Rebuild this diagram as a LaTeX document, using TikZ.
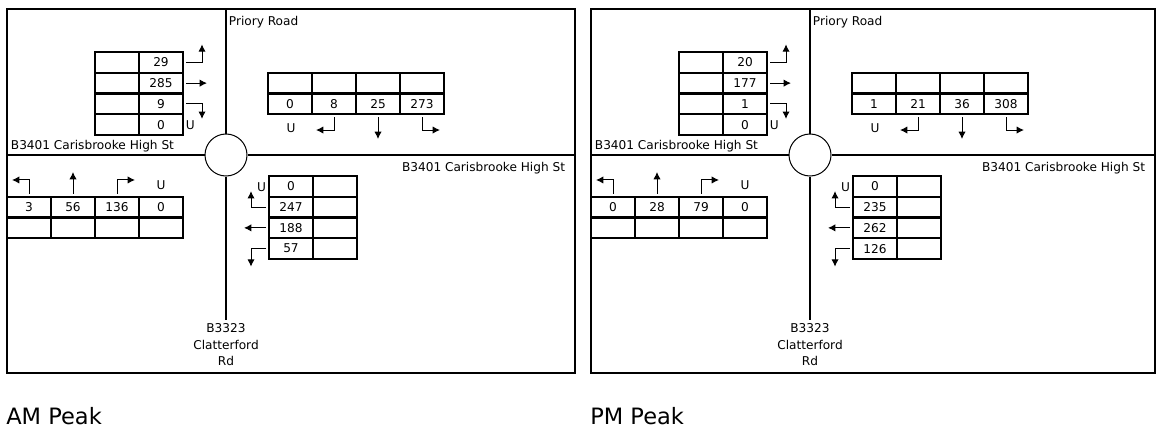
\documentclass[tikz,border=0pt]{standalone}
\usepackage{fontspec}
\setmainfont{DejaVu Sans}
\usetikzlibrary{arrows.meta,calc}
\newcommand\smallfnt{\fontsize{9.1pt}{12.4pt}\selectfont}
\newcommand\bigfnt{\fontsize{16.9pt}{20pt}\selectfont}
\tikzset{
  cell/.style={draw, line width=1.5pt, minimum width=33pt, minimum height=15.4pt, inner sep=0pt, font=\smallfnt},
  txt/.style={inner sep=0.5pt, font=\smallfnt},
  arr/.style={line width=0.75pt, -{Latex[length=5.5pt,width=5.5pt]}},
  road/.style={line width=1.5pt},
  frame/.style={line width=1.5pt},
  rbt/.style={draw, circle, line width=0.75pt, minimum size=31.5pt, inner sep=0pt, fill=white},
}
% #1 prefix, #2 x shift, #3 frame right edge, #4 label, #5 TL, #6 TR, #7 BL, #8 BR
\newcommand\drawpanel[8]{%
\begin{scope}[shift={(#2,0)}]
  \draw[frame] (7,9) rectangle (#3,373);
  \node[rbt] (#1rb) at (226,155) {};
  \draw[road] (226,9) -- (#1rb.north);
  \draw[road] (#1rb.south) -- (226,320);
  \draw[road] (7,155) -- (#1rb.west);
  \draw[road] (#1rb.east) -- (#3,155);
  \node[txt, anchor=west] (#1pr) at (228,22) {Priory Road};
  \node[txt, anchor=west] (#1hl) at (10,146) {B3401 Carisbrooke High St};
  \node[txt, anchor=east] (#1hr) at ({#3-9},168) {B3401 Carisbrooke High St};
  \node[txt, align=center] (#1cl) at (226,345) {B3323\\Clatterford\\Rd};
  \node[inner sep=0pt, font=\bigfnt, anchor=west] (#1lab) at (6,416) {#4};
  % top-left table
  \foreach \v [count=\i] in {#5} {
    \node[cell] (#1tla\i) at (117,{52+20.75*(\i-0.5)}) {};
    \node[cell] (#1tlb\i) at (161,{52+20.75*(\i-0.5)}) {\v};
  }
  \draw[arr] ([shift={(2,0)}]#1tlb1.east) -| ++(16,-18);
  \draw[arr] ([shift={(2,0)}]#1tlb2.east) -- ++(21,0);
  \draw[arr] ([shift={(2,0)}]#1tlb3.east) -| ++(16,15);
  \node[txt, anchor=west] (#1tlu) at ([shift={(1,1)}]#1tlb4.east) {U};
  % top-right table
  \foreach \v [count=\i] in {#6} {
    \node[cell] (#1tra\i) at ({268+44*(\i-0.5)},83.25) {};
    \node[cell] (#1trb\i) at ({268+44*(\i-0.5)},103.75) {\v};
  }
  \node[txt] (#1tru) at ([shift={(1,13)}]#1trb1.south) {U};
  \draw[arr] ([shift={(0,2)}]#1trb2.south) |- ++(-18,13);
  \draw[arr] ([shift={(0,2)}]#1trb3.south) -- ++(0,22);
  \draw[arr] ([shift={(0,2)}]#1trb4.south) |- ++(18,13);
  % bottom-left table
  \foreach \v [count=\i] in {#7} {
    \node[cell] (#1bla\i) at ({7+44*(\i-0.5)},207.25) {\v};
    \node[cell] (#1blb\i) at ({7+44*(\i-0.5)},227.75) {};
  }
  \draw[arr] ([shift={(0,-2)}]#1bla1.north) |- ++(-17,-14);
  \draw[arr] ([shift={(0,-2)}]#1bla2.north) -- ++(0,-22);
  \draw[arr] ([shift={(0,-2)}]#1bla3.north) |- ++(18,-14);
  \node[txt] (#1blu) at ([shift={(0,-11)}]#1bla4.north) {U};
  % bottom-right table
  \foreach \v [count=\i] in {#8} {
    \node[cell] (#1bra\i) at (291,{176+20.75*(\i-0.5)}) {\v};
    \node[cell] (#1brb\i) at (335,{176+20.75*(\i-0.5)}) {};
  }
  \node[txt, anchor=east] (#1bru) at ([shift={(-1,1)}]#1bra1.west) {U};
  \draw[arr] ([shift={(-2,0)}]#1bra2.west) -| ++(-15,-16);
  \draw[arr] ([shift={(-2,0)}]#1bra3.west) -- ++(-22,0);
  \draw[arr] ([shift={(-2,0)}]#1bra4.west) -| ++(-15,18);
\end{scope}}
\begin{document}
\begin{tikzpicture}[x=0.75pt, y=-0.75pt]
  \useasboundingbox (0,0) rectangle (1157,428);
  \drawpanel{am}{0}{575}{AM Peak}{29,285,9,0}{0,8,25,273}{3,56,136,0}{0,247,188,57}
  \drawpanel{pm}{584}{571}{PM Peak}{20,177,1,0}{1,21,36,308}{0,28,79,0}{0,235,262,126}
\end{tikzpicture}
\end{document}
